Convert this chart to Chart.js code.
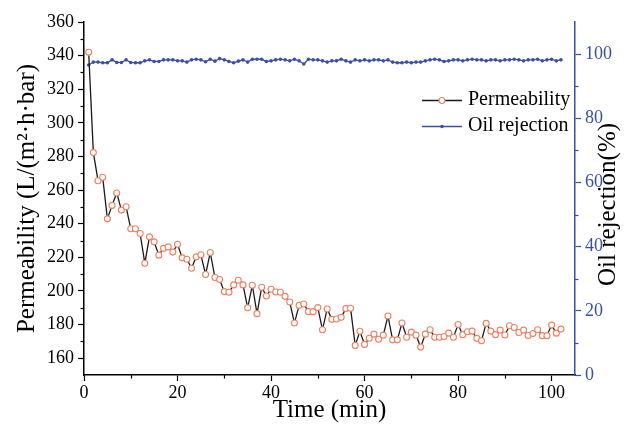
<!DOCTYPE html>
<html>
<head>
<meta charset="utf-8">
<script src="https://cdn.jsdelivr.net/npm/chart.js@4.4.0/dist/chart.umd.min.js"></script>
<style>
  html, body { margin: 0; padding: 0; background: #fff; }
  #wrap { position: relative; width: 638px; height: 437px; }
</style>
</head>
<body>
<div id="wrap"><canvas id="chart" width="638" height="437"></canvas></div>
<script>
// time (min)
var times = [1, 2, 3, 4, 5, 6, 7, 8, 9, 10, 11, 12, 13, 14, 15, 16, 17, 18, 19, 20,
  21, 22, 23, 24, 25, 26, 27, 28, 29, 30, 31, 32, 33, 34, 35, 36, 37, 38, 39, 40,
  41, 42, 43, 44, 45, 46, 47, 48, 49, 50, 51, 52, 53, 54, 55, 56, 57, 58, 59, 60,
  61, 62, 63, 64, 65, 66, 67, 68, 69, 70, 71, 72, 73, 74, 75, 76, 77, 78, 79, 80,
  81, 82, 83, 84, 85, 86, 87, 88, 89, 90, 91, 92, 93, 94, 95, 96, 97, 98, 99, 100,
  101, 102];

// permeability, L/(m2 h bar)
var permeability = [342.0, 282.3, 265.6, 267.6, 242.9, 250.9, 258.3, 248.1, 250.1, 237.0,
  237.0, 234.2, 216.5, 232.2, 229.2, 221.3, 225.3, 226.2, 223.1, 227.8,
  219.7, 218.9, 213.5, 220.3, 221.5, 209.8, 222.9, 208.0, 206.8, 199.6,
  199.2, 203.6, 206.4, 203.6, 190.0, 203.4, 186.5, 202.2, 197.0, 201.0,
  199.4, 199.2, 196.8, 193.4, 180.9, 191.4, 192.2, 187.7, 187.7, 190.1,
  176.9, 189.3, 183.1, 183.3, 184.3, 189.5, 189.7, 167.6, 176.0, 168.2,
  171.9, 174.3, 171.3, 173.7, 185.1, 170.9, 170.9, 180.9, 172.5, 175.5,
  173.7, 166.6, 174.3, 176.9, 172.5, 172.5, 172.9, 174.9, 172.5, 180.0,
  174.0, 175.7, 176.1, 171.8, 170.4, 180.7, 176.1, 174.0, 176.7, 173.8,
  179.3, 178.3, 175.3, 176.7, 173.5, 174.7, 176.9, 173.4, 173.4, 179.7,
  174.9, 177.3];

// oil rejection, %
var oilRejection = [96.6, 97.5, 97.5, 97.3, 97.3, 98.2, 97.4, 97.4, 98.2, 97.4,
  97.3, 97.3, 97.9, 98.2, 97.7, 97.7, 98.2, 98.2, 98.2, 97.9,
  97.9, 97.5, 98.2, 98.4, 98.2, 97.6, 98.4, 97.8, 98.6, 98.2,
  97.7, 97.3, 97.8, 98.2, 97.5, 98.4, 98.4, 98.4, 97.7, 97.9,
  98.2, 98.4, 98.2, 97.9, 98.4, 97.9, 96.9, 98.4, 98.2, 98.2,
  97.9, 97.5, 97.9, 97.9, 98.4, 97.9, 97.5, 98.2, 97.9, 98.2,
  97.9, 98.2, 98.2, 97.9, 98.2, 97.5, 97.3, 97.3, 97.5, 97.3,
  97.5, 97.5, 97.9, 98.2, 98.4, 98.2, 97.7, 97.9, 98.2, 98.2,
  97.9, 98.2, 98.4, 98.2, 98.2, 97.9, 98.2, 98.2, 97.9, 98.2,
  98.2, 98.4, 98.2, 97.9, 98.2, 98.2, 98.4, 97.9, 98.2, 98.4,
  97.9, 98.2];

// minor tick values
var xMinor = [10, 30, 50, 70, 90];
var yMinor = [170, 190, 210, 230, 250, 270, 290, 310, 330, 350];
var y1Minor = [10, 30, 50, 70, 90];

var SERIF = "'Liberation Serif', 'Times New Roman', serif";
var BLUE = '#3b4fa6';
var ORANGE = '#ef8062';

function points(ys) {
  return times.map(function (t, i) { return { x: t, y: ys[i] }; });
}

var extras = {
  id: 'extras',
  afterDraw: function (chart) {
    var c = chart.ctx, a = chart.chartArea, s = chart.scales;
    c.save();
    c.lineWidth = 1.2;

    // minor ticks
    c.strokeStyle = '#000';
    xMinor.forEach(function (v) {
      var px = Math.round(s.x.getPixelForValue(v)) + 0.5;
      c.beginPath(); c.moveTo(px, a.bottom); c.lineTo(px, a.bottom + 3.5); c.stroke();
    });
    yMinor.forEach(function (v) {
      var py = Math.round(s.y.getPixelForValue(v)) + 0.5;
      c.beginPath(); c.moveTo(a.left, py); c.lineTo(a.left - 3.5, py); c.stroke();
    });
    c.strokeStyle = BLUE;
    y1Minor.forEach(function (v) {
      var py = Math.round(s.y1.getPixelForValue(v)) + 0.5;
      c.beginPath(); c.moveTo(a.right, py); c.lineTo(a.right + 3.5, py); c.stroke();
    });

    // right axis title
    c.fillStyle = '#000';
    c.font = '25px ' + SERIF;
    c.textAlign = 'center';
    c.textBaseline = 'middle';
    c.translate(608, (a.top + a.bottom) / 2 + 6);
    c.rotate(-Math.PI / 2);
    c.fillText('Oil rejection(%)', 0, 0);
    c.restore();

    // legend
    c.save();
    var rows = [
      { text: 'Permeability', line: '#1a1a1a', y: 100, draw: function (x, y) {
          c.beginPath(); c.arc(x, y, 3, 0, Math.PI * 2);
          c.fillStyle = '#fff'; c.fill();
          c.strokeStyle = ORANGE; c.lineWidth = 1.1; c.stroke();
        } },
      { text: 'Oil rejection', line: BLUE, y: 126, draw: function (x, y) {
          c.beginPath(); c.arc(x, y, 1.8, 0, Math.PI * 2);
          c.fillStyle = BLUE; c.fill();
        } }
    ];
    rows.forEach(function (r) {
      c.strokeStyle = r.line; c.lineWidth = 1.3;
      c.beginPath(); c.moveTo(422, r.y + 0.5); c.lineTo(462, r.y + 0.5); c.stroke();
      r.draw(442, r.y + 0.5);
      c.fillStyle = '#000';
      c.font = '20px ' + SERIF;
      c.textAlign = 'left';
      c.textBaseline = 'middle';
      c.fillText(r.text, 468, r.y);
    });
    c.restore();
  }
};

var ctx = document.getElementById('chart').getContext('2d');
var myChart = new Chart(ctx, {
  type: 'line',
  data: {
    datasets: [{
      label: 'Permeability',
      data: points(permeability),
      yAxisID: 'y',
      borderColor: '#1a1a1a',
      borderWidth: 1.3,
      pointRadius: 3,
      pointBorderWidth: 1.1,
      pointBorderColor: ORANGE,
      pointBackgroundColor: '#fff',
      tension: 0
    }, {
      label: 'Oil rejection',
      data: points(oilRejection),
      yAxisID: 'y1',
      borderColor: BLUE,
      borderWidth: 1.3,
      pointRadius: 1.8,
      pointBorderWidth: 0,
      pointBackgroundColor: BLUE,
      tension: 0
    }]
  },
  options: {
    responsive: false,
    animation: false,
    devicePixelRatio: 1,
    layout: { padding: { top: 22, left: 0, right: 0, bottom: 0 } },
    plugins: { legend: { display: false }, tooltip: { enabled: false } },
    scales: {
      x: {
        type: 'linear', position: 'bottom', min: 0, max: 105,
        ticks: { stepSize: 20, includeBounds: false, color: '#000', padding: 1, maxRotation: 0,
                 font: { family: SERIF, size: 18 } },
        grid: { drawOnChartArea: false, tickLength: 6, tickWidth: 1.2, tickColor: '#000' },
        border: { display: true, color: '#000', width: 1.5 },
        title: { display: true, text: 'Time (min)', color: '#000',
                 font: { family: SERIF, size: 25 }, padding: { top: 0, bottom: 12 } },
        afterFit: function (s) { s.height = 62; }
      },
      y: {
        type: 'linear', position: 'left', min: 150, max: 360,
        ticks: { stepSize: 20, includeBounds: false, color: '#000', padding: 4,
                 font: { family: SERIF, size: 18 } },
        grid: { drawOnChartArea: false, tickLength: 6, tickWidth: 1.2, tickColor: '#000' },
        border: { display: true, color: '#000', width: 1.5 },
        title: { display: true, text: 'Permeability (L/(m\u00b2\u00b7h\u00b7bar)', color: '#000',
                 font: { family: SERIF, size: 25 }, padding: { top: 12, bottom: 0 } },
        afterFit: function (s) { s.width = 84; }
      },
      y1: {
        type: 'linear', position: 'right', min: 0, max: 110,
        ticks: { stepSize: 20, includeBounds: false, color: BLUE, padding: 4,
                 font: { family: SERIF, size: 18 } },
        grid: { drawOnChartArea: false, tickLength: 6, tickWidth: 1.2, tickColor: BLUE },
        border: { display: true, color: BLUE, width: 1.5 },
        afterFit: function (s) { s.width = 63; }
      }
    }
  },
  plugins: [extras]
});
</script>
</body>
</html>
